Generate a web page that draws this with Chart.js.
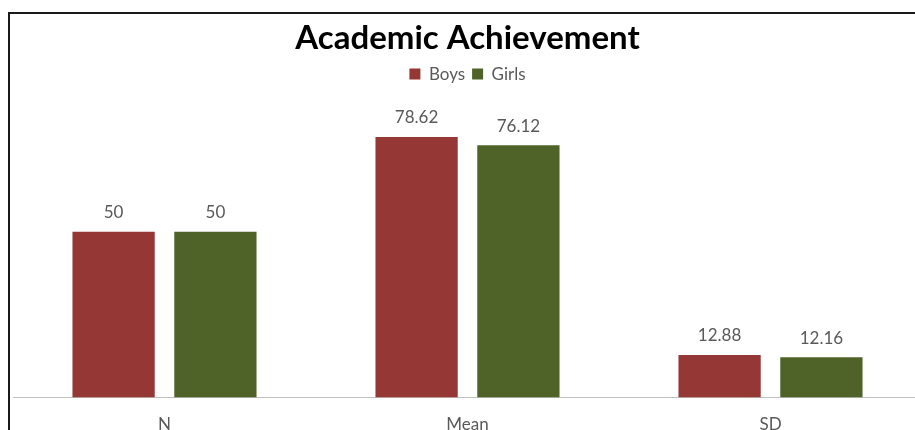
<!DOCTYPE html>
<html>
<head>
<meta charset="utf-8">
<script src="https://cdn.jsdelivr.net/npm/chart.js@4/dist/chart.umd.min.js"></script>
<style>
  html, body { margin: 0; padding: 0; background: #fff; overflow: hidden; }
  #frame {
    position: absolute; left: 8px; top: 12px;
    width: 916px; height: 440px;
    border-left: 2px solid #1a1a1a; border-top: 2px solid #1a1a1a;
  }
  #frame canvas { display: block; }
</style>
</head>
<body>
<div id="frame"><canvas id="myChart" width="916" height="434"></canvas></div>
<script>
var categories = ["N", "Mean", "SD"];
var boysValues = [50, 78.62, 12.88];
var girlsValues = [50, 76.12, 12.16];
var seriesNames = ["Boys", "Girls"];
var barColors = ["#953735", "#4f6228"];

var smallFont = "Lato, 'Noto Sans', sans-serif";

// writes each bar's value just above it
var valueLabels = {
  id: "valueLabels",
  afterDatasetsDraw: function(chart) {
    var ctx = chart.ctx;
    ctx.save();
    ctx.font = "17px " + smallFont;
    ctx.fillStyle = "#595959";
    ctx.textAlign = "center";
    ctx.textBaseline = "middle";
    chart.data.datasets.forEach(function(ds, i) {
      chart.getDatasetMeta(i).data.forEach(function(bar, j) {
        ctx.fillText(ds.data[j].toFixed(ds.data[j] % 1 ? 2 : 0), bar.x, bar.y - 19);
      });
    });
    ctx.restore();
  }
};

new Chart("myChart", {
  type: "bar",
  data: {
    labels: categories,
    datasets: [
      { label: seriesNames[0], data: boysValues, backgroundColor: barColors[0] },
      { label: seriesNames[1], data: girlsValues, backgroundColor: barColors[1] }
    ]
  },
  options: {
    responsive: false,
    animation: false,
    layout: { padding: { left: 3, right: 4, top: 0, bottom: 4 } },
    datasets: { bar: { categoryPercentage: 0.672, barPercentage: 0.808 } },
    scales: {
      x: {
        grid: { display: false },
        border: { color: "#bfbfbf", width: 1 },
        ticks: { color: "#595959", font: { size: 17, family: smallFont }, padding: 9 }
      },
      y: { display: false, min: 0, max: 92 }
    },
    plugins: {
      title: {
        display: true,
        text: "Academic Achievement",
        color: "#000",
        font: { size: 33, weight: "bold", family: smallFont },
        padding: { top: 5, bottom: 0 }
      },
      legend: {
        labels: {
          boxWidth: 11, boxHeight: 11,
          color: "#595959",
          font: { size: 17, family: smallFont },
          padding: 7
        }
      },
      tooltip: { enabled: false }
    }
  },
  plugins: [valueLabels]
});
</script>
</body>
</html>
